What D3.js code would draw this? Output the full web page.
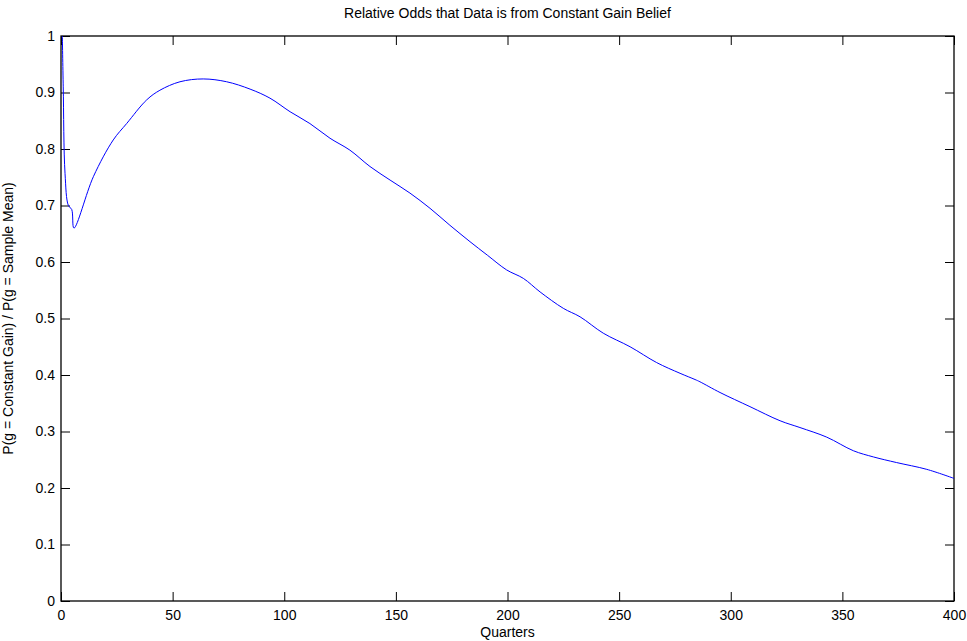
<!DOCTYPE html>
<html>
<head>
<meta charset="utf-8">
<script src="https://cdn.jsdelivr.net/npm/d3@7"></script>
<style>
  body { margin: 0; background: #fff; }
  svg text { font-family: "Liberation Sans", Arial, sans-serif; }
</style>
</head>
<body>
<div id="chart"></div>
<script>
// values
const quarters = [0.6, 1, 1.8, 3.3, 4.8, 5.8, 14.5, 23.4, 29.4, 38.4, 44.3, 53.3, 63.7, 74.2, 84.7,
    93.6, 102.6, 111.5, 120.5, 129.4, 138.4, 147.4, 156.3, 165.3, 174.2, 183.2, 191, 199.6, 207.1,
    214.6, 225, 232.5, 242.9, 254.9, 266.8, 277.3, 284, 286.2, 295.2, 308.6, 322.1, 331, 343,
    354.9, 363.9, 374.3, 387.8, 400];
const odds = [1.0, 0.91, 0.757, 0.70, 0.693, 0.660, 0.751, 0.816, 0.845, 0.887, 0.904, 0.919, 0.924, 0.919, 0.906,
    0.890, 0.866, 0.845, 0.819, 0.798, 0.769, 0.745, 0.722, 0.695, 0.665, 0.636, 0.612, 0.586, 0.571,
    0.547, 0.518, 0.503, 0.474, 0.450, 0.422, 0.403, 0.392, 0.388, 0.369, 0.344, 0.319, 0.307, 0.290,
    0.266, 0.255, 0.245, 0.233, 0.217];
const xTicks = [0, 50, 100, 150, 200, 250, 300, 350, 400];
const yTicks = [0, 0.1, 0.2, 0.3, 0.4, 0.5, 0.6, 0.7, 0.8, 0.9, 1];

const width = 967, height = 641;
const margin = { top: 36, right: 13, bottom: 40, left: 61 };

const svg = d3.select("#chart").append("svg")
    .attr("width", width)
    .attr("height", height);

const x = d3.scaleLinear().domain([0, 400]).range([margin.left, width - margin.right]);
const y = d3.scaleLinear().domain([0, 1]).range([height - margin.bottom, margin.top]);

// box
svg.append("rect")
    .attr("x", x(0)).attr("y", y(1))
    .attr("width", x(400) - x(0)).attr("height", y(0) - y(1))
    .attr("fill", "none").attr("stroke", "#000").attr("stroke-width", 1.3);

const tickLen = 9;
const fontSize = 14;

// bottom + top axes (ticks point inward)
svg.append("g")
    .attr("transform", `translate(0,${y(0)})`)
    .call(d3.axisBottom(x).tickValues(xTicks).tickSize(-tickLen).tickPadding(9).tickFormat(d3.format("d")))
    .call(g => g.select(".domain").remove())
    .call(g => g.selectAll("text").attr("font-size", fontSize).attr("fill", "#000"));
svg.append("g")
    .attr("transform", `translate(0,${y(1)})`)
    .call(d3.axisTop(x).tickValues(xTicks).tickSize(-tickLen).tickFormat(""))
    .call(g => g.select(".domain").remove());

// left + right axes
svg.append("g")
    .attr("transform", `translate(${x(0)},0)`)
    .call(d3.axisLeft(y).tickValues(yTicks).tickSize(-tickLen).tickPadding(6).tickFormat(d3.format("")))
    .call(g => g.select(".domain").remove())
    .call(g => g.selectAll("text").attr("font-size", fontSize).attr("fill", "#000"));
svg.append("g")
    .attr("transform", `translate(${x(400)},0)`)
    .call(d3.axisRight(y).tickValues(yTicks).tickSize(-tickLen).tickFormat(""))
    .call(g => g.select(".domain").remove());

svg.selectAll(".tick line").attr("stroke", "#000");

// clip and line
svg.append("clipPath").attr("id", "clip")
    .append("rect")
    .attr("x", x(0)).attr("y", y(1))
    .attr("width", x(400) - x(0)).attr("height", y(0) - y(1));

const line = d3.line()
    .x((d, i) => x(quarters[i]))
    .y(d => y(d))
    .curve(d3.curveCatmullRom.alpha(0.5));

svg.append("path")
    .datum(odds)
    .attr("clip-path", "url(#clip)")
    .attr("d", line)
    .attr("fill", "none")
    .attr("stroke", "#0000ff")
    .attr("stroke-width", 1);

// title and labels
svg.append("text")
    .attr("x", (x(0) + x(400)) / 2)
    .attr("y", 18)
    .attr("text-anchor", "middle")
    .attr("font-size", fontSize)
    .text("Relative Odds that Data is from Constant Gain Belief");

svg.append("text")
    .attr("x", (x(0) + x(400)) / 2)
    .attr("y", 637)
    .attr("text-anchor", "middle")
    .attr("font-size", fontSize)
    .text("Quarters");

svg.append("text")
    .attr("transform", `translate(13,${(y(0) + y(1)) / 2}) rotate(-90)`)
    .attr("text-anchor", "middle")
    .attr("font-size", fontSize)
    .text("P(g = Constant Gain) / P(g = Sample Mean)");
</script>
</body>
</html>
